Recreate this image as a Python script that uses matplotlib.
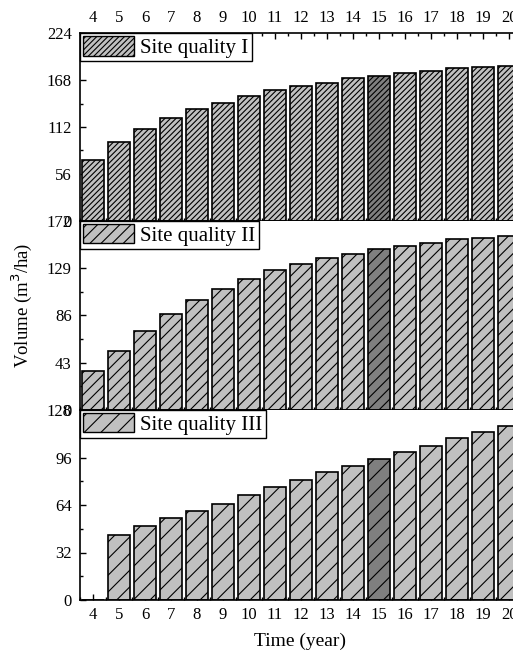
import matplotlib
matplotlib.use("Agg")
import matplotlib.pyplot as plt
from matplotlib.ticker import MultipleLocator, FixedLocator
from matplotlib.patches import Patch

plt.rcParams['font.family'] = ['Liberation Serif', 'DejaVu Serif']
plt.rcParams['hatch.linewidth'] = 0.8

years = list(range(4, 21))
vol_I = [73, 94, 110, 123, 133, 141, 149, 156, 161, 165, 170, 173, 176, 179, 182, 184, 185]
vol_II = [35, 54, 72, 87, 100, 110, 119, 127, 133, 138, 142, 146, 149, 152, 155, 156, 158]
vol_III = [0, 44, 50, 55, 60, 65, 71, 76, 81, 86, 90, 95, 100, 104, 109, 113, 117]
labels = ["Site quality I", "Site quality II", "Site quality III"]
ylims = [224, 172, 128]
ysteps = [56, 43, 32]
hatches = ["//////", "///", "//"]
highlight_year = 15

fig = plt.figure(figsize=(5.13, 6.55), dpi=100)
W, H = 513, 655
left = 80 / W
right = 522 / W
bounds = [(33.3, 220.7), (220.7, 410.0), (410.0, 600.0)]
series = [vol_I, vol_II, vol_III]

axes = []
for i, (ytop, ybot) in enumerate(bounds):
    ax = fig.add_axes([left, 1 - ybot / H, right - left, (ybot - ytop) / H])
    axes.append(ax)
    colors = ['#7f7f7f' if y == highlight_year else '#c0c0c0' for y in years]
    ax.bar(years, series[i], width=0.82, color=colors, edgecolor='black',
           linewidth=1.2, hatch=hatches[i], zorder=2)
    ax.set_xlim(3.5, 20.5)
    ax.set_ylim(0, ylims[i])
    ax.yaxis.set_major_locator(MultipleLocator(ysteps[i]))
    ax.yaxis.set_minor_locator(MultipleLocator(ysteps[i] / 2))
    ax.xaxis.set_major_locator(FixedLocator(years))
    ax.xaxis.set_minor_locator(MultipleLocator(0.5))
    ax.tick_params(axis='both', which='major', direction='in', length=4, width=1,
                   labelsize=12)
    ax.tick_params(axis='both', which='minor', direction='in', length=2, width=1)
    ax.tick_params(axis='y', pad=6)
    ax.tick_params(axis='x', pad=5)
    for s in ax.spines.values():
        s.set_linewidth(1.2)
    ax.spines['right'].set_visible(False)
    if i == 0:
        ax.tick_params(axis='x', which='both', top=True, bottom=True,
                       labeltop=True, labelbottom=False)
    elif i == 1:
        ax.tick_params(axis='x', which='both', top=False, bottom=True,
                       labeltop=False, labelbottom=False)
        ax.spines['top'].set_visible(False)
    else:
        ax.tick_params(axis='x', which='both', top=False, bottom=True,
                       labeltop=False, labelbottom=True)
        ax.spines['top'].set_visible(False)
    handle = Patch(facecolor='#c0c0c0', edgecolor='black', hatch=hatches[i],
                   linewidth=1.0)
    leg = ax.legend([handle], [labels[i]], loc='upper left', bbox_to_anchor=(0, 1),
                    borderaxespad=0, fontsize=15, fancybox=False, framealpha=1,
                    edgecolor='black', handlelength=2.45, handleheight=1.05,
                    borderpad=0.15, handletextpad=0.3)
    leg.get_frame().set_linewidth(1.0)
    leg.set_zorder(5)

fig.text(22 / W, 1 - 305 / H, "Volume (m$^3$/ha)", rotation=90, ha='center',
         va='center', fontsize=13.5)
fig.text(300 / W, 1 - 641 / H, "Time (year)", ha='center', va='center',
         fontsize=14)

fig.savefig("out.png", dpi=100)
